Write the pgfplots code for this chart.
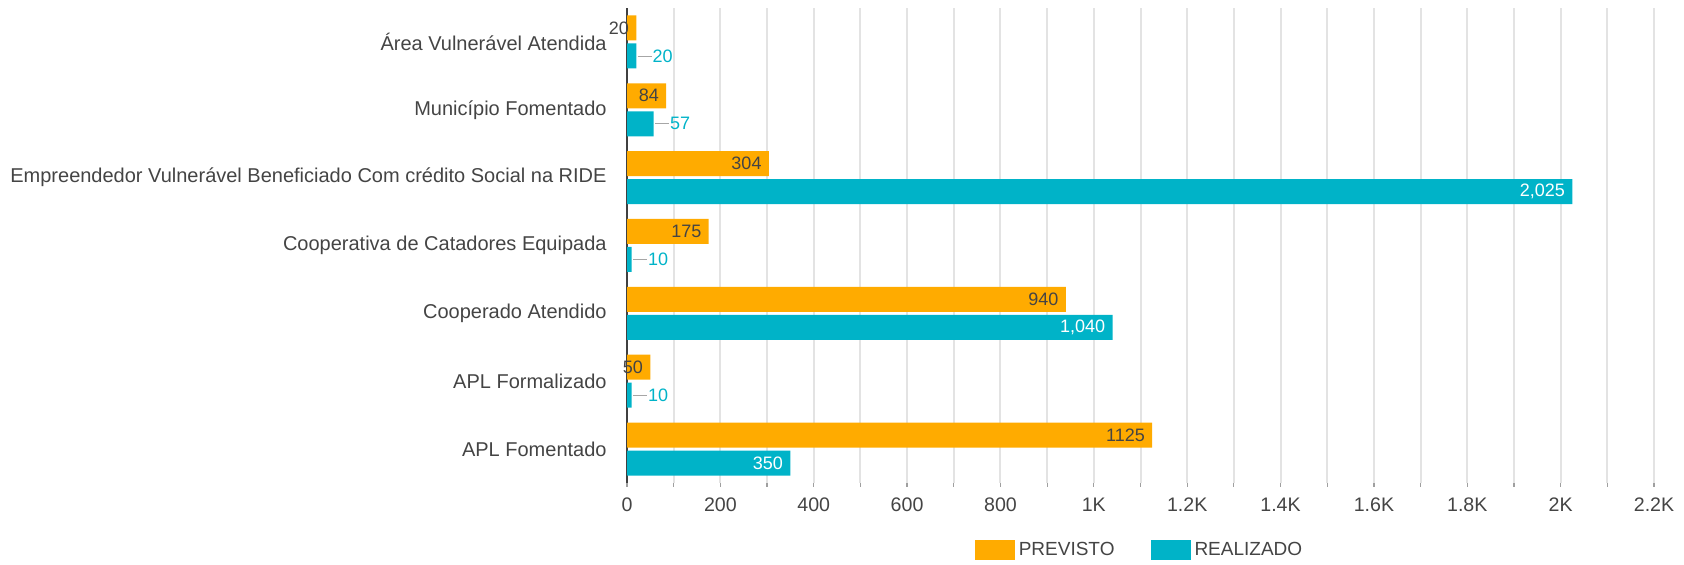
\documentclass[border=0pt]{standalone}
\usepackage{pgfplots}
\pgfplotsset{compat=1.18}
\usepackage{fontspec}
\setmainfont{Liberation Sans}

\definecolor{prev}{HTML}{FFAB00}
\definecolor{real}{HTML}{00B3C8}
\definecolor{txt}{HTML}{444444}
\definecolor{gridc}{HTML}{E3E3E3}

\begin{document}
\begin{tikzpicture}
\useasboundingbox (0,0) rectangle (842pt,282.5pt);
\begin{axis}[
  at={(313.5pt,41pt)}, anchor=south west,
  scale only axis,
  width=513.5pt, height=237.5pt,
  xbar, bar width=12.5pt,
  xmin=0, xmax=2200,
  ymin=-0.5, ymax=6.5,
  axis lines*=left,
  x axis line style={draw=none},
  y axis line style={draw=black!75, line width=0.7pt},
  xtick={0,200,...,2200},
  minor xtick={100,300,...,2100},
  xticklabels={0,200,400,600,800,1K,1.2K,1.4K,1.6K,1.8K,2K,2.2K},
  xmajorgrids, xminorgrids,
  major grid style={gridc, line width=1pt},
  minor grid style={gridc, line width=1pt},
  tick align=outside,
  major tick length=2pt, minor tick length=2pt,
  x tick style={gridc!70!black, line width=0.6pt},
  ytick={0,...,6},
  yticklabels={APL Fomentado, APL Formalizado, Cooperado Atendido,
    Cooperativa de Catadores Equipada,
    Empreendedor Vulnerável Beneficiado Com crédito Social na RIDE,
    Município Fomentado, Área Vulnerável Atendida},
  y tick style={draw=none},
  y tick label style={font=\fontsize{10}{12}\selectfont, text=txt, anchor=east, inner sep=0pt, xshift=-8pt},
  x tick label style={font=\fontsize{9.8}{11}\selectfont, text=txt, anchor=base, inner sep=0pt, yshift=-12.5pt},
  /pgf/number format/assume math mode=true,
  point meta=explicit symbolic,
  clip=false,
  legend columns=2,
  legend style={at={(0.5,-0.141)}, anchor=center, draw=none,
    font=\fontsize{9.5}{11}\selectfont, text=txt,
    /tikz/every even column/.append style={column sep=16pt}},
  legend image code/.code={\fill[#1] (0pt,-5pt) rectangle (20pt,5pt);},
]
% PREVISTO
\addplot[fill=prev, draw=none, bar shift=7pt,
  nodes near coords,
  every node near coord/.append style={anchor=east, inner sep=0pt, xshift=-3.5pt,
    font=\fontsize{9}{10}\selectfont, text=txt}]
  coordinates {(20,6)[20] (84,5)[84] (304,4)[304] (175,3)[175]
               (940,2)[940] (50,1)[50] (1125,0)[1125]};
\addlegendentry{PREVISTO}
% REALIZADO, labels inside the bar
\addplot[fill=real, draw=none, bar shift=-7pt,
  nodes near coords,
  every node near coord/.append style={anchor=east, inner sep=0pt, xshift=-3.5pt,
    font=\fontsize{9}{10}\selectfont, text=white}]
  coordinates {(2025,4)[2{,}025] (1040,2)[1{,}040] (350,0)[350]};
\addlegendentry{REALIZADO}
% REALIZADO, small values with labels outside
\addplot[fill=real, draw=none, bar shift=-7pt, forget plot,
  nodes near coords={\textcolor{black!35}{\rule[0.3em]{7pt}{0.5pt}}\hspace{0.5pt}\pgfplotspointmeta},
  every node near coord/.append style={anchor=west, inner sep=0pt, xshift=0.5pt,
    font=\fontsize{9}{10}\selectfont, text=real}]
  coordinates {(20,6)[20] (57,5)[57] (10,3)[10] (10,1)[10]};
\end{axis}
\end{tikzpicture}
\end{document}
